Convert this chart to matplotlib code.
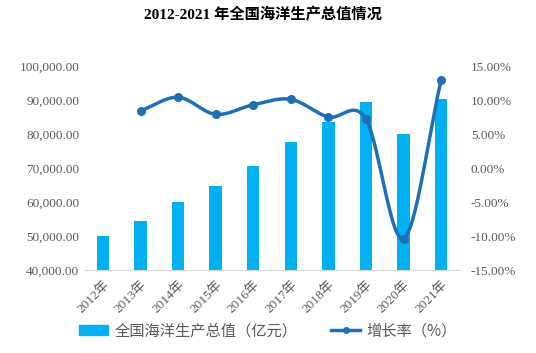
import numpy as np
import matplotlib.pyplot as plt
from matplotlib.lines import Line2D
from matplotlib.patches import Patch
from matplotlib.ticker import FuncFormatter

plt.rcParams['font.family'] = ['Liberation Serif', 'Noto Sans CJK SC', 'DejaVu Sans']

years = ['2012年', '2013年', '2014年', '2015年', '2016年',
         '2017年', '2018年', '2019年', '2020年', '2021年']
gop = [50087, 54313, 59936, 64669, 70507, 77611, 83415, 89415, 80010, 90385]
# growth rate, no value for 2012
rate_years = [1, 2, 3, 4, 5, 6, 7, 8, 9]
rate = [8.4, 10.4, 7.9, 9.3, 10.1, 7.5, 7.2, -10.4, 12.9]

bar_col = '#00B0F0'
line_col = '#1F6FB5'
grey = '#595959'

def smooth(xs, ys, n=30):
    # catmull-rom style curve through the points, like excel's smoothed line
    xs = np.asarray(xs, float); ys = np.asarray(ys, float)
    px = np.concatenate([[2*xs[0]-xs[1]], xs, [2*xs[-1]-xs[-2]]])
    py = np.concatenate([[2*ys[0]-ys[1]], ys, [2*ys[-1]-ys[-2]]])
    ox, oy = [], []
    t = np.linspace(0, 1, n)
    for i in range(1, len(px)-2):
        for arr, out in ((px, ox), (py, oy)):
            p0, p1, p2, p3 = arr[i-1], arr[i], arr[i+1], arr[i+2]
            out.extend(0.5*((2*p1) + (-p0+p2)*t + (2*p0-5*p1+4*p2-p3)*t**2
                            + (-p0+3*p1-3*p2+p3)*t**3))
    return ox, oy

fig = plt.figure(figsize=(5.36, 3.53), dpi=100)
ax = fig.add_axes([0.157, 0.235, 0.701, 0.578])
x = np.arange(len(years))
ax.bar(x, gop, width=0.33, color=bar_col, zorder=2)
ax.set_ylim(40000, 100000)
ax.set_yticks(np.arange(40000, 100001, 10000))
ax.yaxis.set_major_formatter(FuncFormatter(lambda v, p: f'{v:,.2f}'))
ax.set_xlim(-0.5, len(years) - 0.5)
ax.set_xticks(x)
ax.set_xticklabels(years, rotation=45, ha='right', va='top', rotation_mode='anchor')
for s in ['top', 'right', 'left']:
    ax.spines[s].set_visible(False)
ax.spines['bottom'].set_color('#d9d9d9')
ax.tick_params(length=0, colors=grey, labelsize=9.5)
ax.tick_params(axis='x', pad=6)

ax2 = ax.twinx()
sx, sy = smooth(rate_years, rate)
ax2.plot(sx, sy, color=line_col, lw=2.5, zorder=3)
ax2.plot(rate_years, rate, 'o', color=line_col, ms=5.5, zorder=4)
ax2.set_ylim(-15, 15)
ax2.set_yticks(np.arange(-15, 16, 5))
ax2.yaxis.set_major_formatter(FuncFormatter(lambda v, p: f'{v:.2f}%'))
for s in ['top', 'right', 'left', 'bottom']:
    ax2.spines[s].set_visible(False)
ax2.tick_params(length=0, colors=grey, labelsize=9.5, pad=8)

fig.suptitle('2012-2021 年全国海洋生产总值情况', x=0.49, y=0.98,
             fontsize=11, fontweight='bold',
             family=['Liberation Serif', 'Noto Sans CJK SC'])

handles = [Patch(color=bar_col),
           Line2D([0], [0], color=line_col, lw=2.5, marker='o', ms=4)]
fig.legend(handles, ['全国海洋生产总值（亿元）', '增长率（%）'],
           loc='lower center', bbox_to_anchor=(0.5, 0.0), ncol=2, frameon=False,
           handlelength=1.9, handletextpad=0.4, columnspacing=2.2,
           prop={'family': ['Noto Sans CJK SC'], 'size': 11},
           labelcolor=grey)

fig.savefig('out.png', dpi=100)
